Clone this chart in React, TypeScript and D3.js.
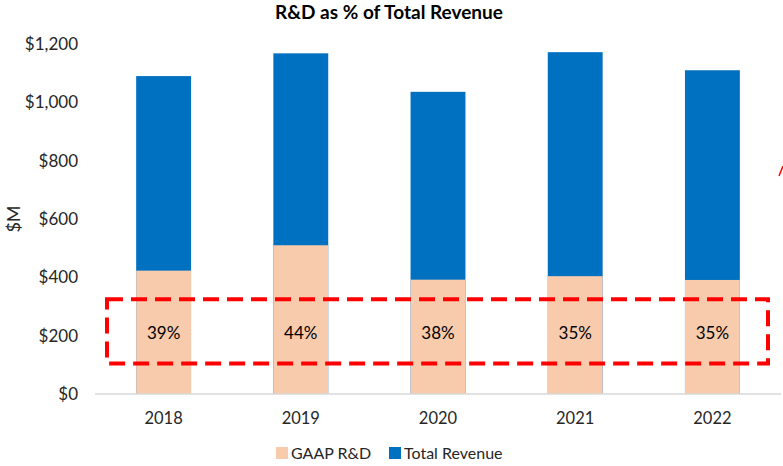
import * as React from 'react';
import * as d3 from 'd3';

const years = ['2018', '2019', '2020', '2021', '2022'];
const totalRevenue = [1090, 1168, 1036, 1172, 1110];
const gaapRnd = [423, 510, 392, 404, 391];
const pctLabels = ['39%', '44%', '38%', '35%', '35%'];
const yTicks = [0, 200, 400, 600, 800, 1000, 1200];

const App: React.FC = () => {
  const width = 783;
  const height = 466;
  const margin = { top: 44, right: 2, bottom: 72, left: 95 };

  const x = d3
    .scaleBand()
    .domain(years)
    .range([margin.left, width - margin.right])
    .paddingInner(0.6)
    .paddingOuter(0.3);

  const y = d3
    .scaleLinear()
    .domain([0, 1200])
    .range([height - margin.bottom, margin.top]);

  const fmt = (v: number) => '$' + d3.format(',')(v);
  const font = 'Lato, "Open Sans", sans-serif';

  // red dashed highlight box around the percentages
  const boxTop = y(325);
  const boxBottom = y(105);
  const boxLeft = 107;
  const boxRight = 768;

  return (
    <svg
      width={width}
      height={height}
      style={{ position: 'absolute', left: 0, top: 0, background: '#fff' }}
      fontFamily={font}
    >
      <text x={389} y={19} textAnchor="middle" fontSize={19} fontWeight="bold" fill="#000">
        R&amp;D as % of Total Revenue
      </text>

      {yTicks.map((t) => (
        <text key={t} x={78} y={y(t)} dy="0.35em" textAnchor="end" fontSize={17} fill="#262626">
          {fmt(t)}
        </text>
      ))}
      <text
        transform={`translate(20, ${y(600)}) rotate(-90)`}
        textAnchor="middle"
        fontSize={18}
        fill="#262626"
      >
        $M
      </text>

      {years.map((yr, i) => (
        <g key={yr}>
          <rect
            x={x(yr)}
            width={x.bandwidth()}
            y={y(totalRevenue[i])}
            height={y(0) - y(totalRevenue[i])}
            fill="#0070C0"
          />
          <rect
            x={x(yr)}
            width={x.bandwidth()}
            y={y(gaapRnd[i])}
            height={y(0) - y(gaapRnd[i])}
            fill="#F8CBAD"
          />
          <text
            x={(x(yr) as number) + x.bandwidth() / 2}
            y={333}
            dy="0.35em"
            textAnchor="middle"
            fontSize={17}
            fill="#000"
          >
            {pctLabels[i]}
          </text>
          <text
            x={(x(yr) as number) + x.bandwidth() / 2}
            y={418}
            dy="0.35em"
            textAnchor="middle"
            fontSize={16.5}
            fill="#262626"
          >
            {yr}
          </text>
        </g>
      ))}

      <line x1={margin.left} x2={width - 2} y1={y(0)} y2={y(0)} stroke="#D9D9D9" strokeWidth={1.5} />

      <rect
        x={boxLeft}
        y={boxTop}
        width={boxRight - boxLeft}
        height={boxBottom - boxTop}
        fill="none"
        stroke="#FF0000"
        strokeWidth={4}
        strokeDasharray="16 8"
      />
      <line x1={779} y1={176} x2={783} y2={166} stroke="#FF0000" strokeWidth={1.5} />

      <rect x={276} y={447} width={12} height={12} fill="#F8CBAD" />
      <text x={291} y={453} dy="0.35em" fontSize={16} fill="#262626">
        GAAP R&amp;D
      </text>
      <rect x={389} y={447} width={12} height={12} fill="#0070C0" />
      <text x={404} y={453} dy="0.35em" fontSize={16} fill="#262626">
        Total Revenue
      </text>
    </svg>
  );
};

export default App;
